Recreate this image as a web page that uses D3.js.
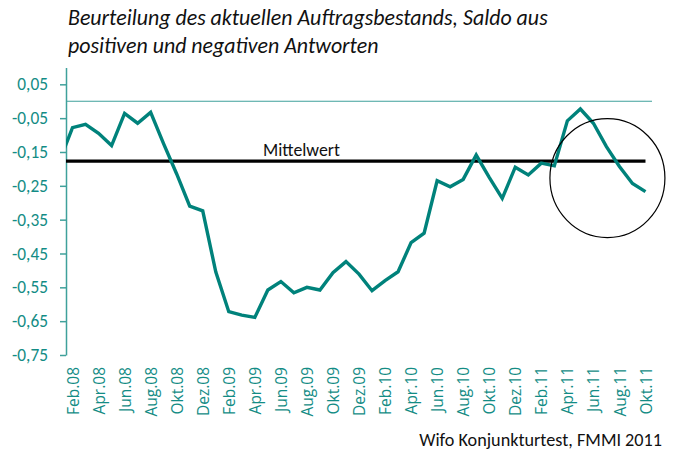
<!DOCTYPE html>
<html>
<head>
<meta charset="utf-8">
<script src="https://cdn.jsdelivr.net/npm/d3@7"></script>
<style>
  body { margin: 0; background: #fff; }
  svg { display: block; font-family: Carlito, Lato, "Open Sans", sans-serif; }
</style>
</head>
<body>
<svg id="chart" width="673" height="451"></svg>
<script>
// monthly categories (Jan.08 sits just left of the plot and gets clipped)
const months = [
  "Jan.08", "Feb.08", "Mär.08", "Apr.08", "Mai.08", "Jun.08", "Jul.08", "Aug.08", "Sep.08", "Okt.08", "Nov.08", "Dez.08",
  "Jan.09", "Feb.09", "Mär.09", "Apr.09", "Mai.09", "Jun.09", "Jul.09", "Aug.09", "Sep.09", "Okt.09", "Nov.09", "Dez.09",
  "Jan.10", "Feb.10", "Mär.10", "Apr.10", "Mai.10", "Jun.10", "Jul.10", "Aug.10", "Sep.10", "Okt.10", "Nov.10", "Dez.10",
  "Jan.11", "Feb.11", "Mär.11", "Apr.11", "Mai.11", "Jun.11", "Jul.11", "Aug.11", "Sep.11", "Okt.11"
];

const saldo = [
  -0.177, -0.078, -0.068, -0.095, -0.131, -0.036, -0.065, -0.033, -0.126, -0.215, -0.310, -0.324,
  -0.504, -0.622, -0.632, -0.639, -0.558, -0.533, -0.566, -0.550, -0.558, -0.507, -0.474, -0.511,
  -0.560, -0.530, -0.504, -0.418, -0.390, -0.235, -0.253, -0.231, -0.159, -0.225, -0.287, -0.195,
  -0.218, -0.183, -0.191, -0.058, -0.023, -0.065, -0.134, -0.193, -0.243, -0.267
];

const mittelwert = -0.177;
const yTicks = [-0.75, -0.65, -0.55, -0.45, -0.35, -0.25, -0.15, -0.05, 0.05];
const xTickLabels = ["Feb.08", "Apr.08", "Jun.08", "Aug.08", "Okt.08", "Dez.08", "Feb.09", "Apr.09", "Jun.09",
  "Aug.09", "Okt.09", "Dez.09", "Feb.10", "Apr.10", "Jun.10", "Aug.10", "Okt.10", "Dez.10", "Feb.11",
  "Apr.11", "Jun.11", "Aug.11", "Okt.11"];

const titleLines = ["Beurteilung des aktuellen Auftragsbestands, Saldo aus", "positiven und negativen Antworten"];
const source = "Wifo Konjunkturtest, FMMI 2011";

// highlighted region around the latest months
const circleMonth = "Jul.11";
const circleValue = -0.227;

const teal = "#00827b";
const tealText = "#138c85";
const tealAxis = "#3fa19b";

const svg = d3.select("#chart");
const plot = { left: 66, right: 652, top: 67, bottom: 355 };

const x = d3.scaleLinear().domain([0.5, months.length - 0.5]).range([plot.left, plot.right]);
const y = d3.scaleLinear().domain([-0.75, 0.1]).range([plot.bottom, plot.top + 0.4]);

const locale = d3.formatLocale({ decimal: ",", thousands: ".", grouping: [3], currency: ["", "€"], minus: "-" });
const fmt = locale.format(".2f");

// scale the font so the given text element is as wide as in the reference
function fitSize(textSel, width) {
  const node = textSel.node();
  const base = parseFloat(textSel.style("font-size"));
  const w = node.getComputedTextLength();
  return base * width / w;
}

// title
const title = svg.append("g").selectAll("text")
  .data(titleLines)
  .enter().append("text")
  .attr("x", 68)
  .attr("y", (d, i) => 25 + i * 28)
  .style("font-size", "18px")
  .style("font-style", "italic")
  .style("fill", "#111")
  .text(d => d);
const titleSize = fitSize(title.filter((d, i) => i === 0), 480);
title.style("font-size", titleSize + "px");

svg.append("clipPath").attr("id", "clip")
  .append("rect")
  .attr("x", plot.left).attr("y", plot.top)
  .attr("width", plot.right - plot.left).attr("height", plot.bottom - plot.top);

// zero line
svg.append("line")
  .attr("x1", plot.left).attr("x2", plot.right)
  .attr("y1", y(0)).attr("y2", y(0))
  .style("stroke", tealAxis).style("stroke-width", 1.2);

// y axis
const yAxis = svg.append("g")
  .attr("transform", `translate(${plot.left},0)`)
  .call(d3.axisLeft(y).tickValues(yTicks).tickFormat(fmt).tickSize(6).tickSizeOuter(0).tickPadding(12));
yAxis.select(".domain").style("stroke", tealAxis).style("stroke-width", 1.5);
yAxis.selectAll(".tick line").style("stroke", tealAxis).style("stroke-width", 1.5);
const yLabels = yAxis.selectAll("text")
  .style("font-size", "14px").style("fill", tealText).style("font-family", "Carlito, Lato, sans-serif");
yLabels.style("font-size", fitSize(yLabels.filter(d => d === -0.75), 36) + "px");

// x labels (every second month)
const xAxis = svg.append("g")
  .attr("transform", "translate(0,367)")
  .call(d3.axisBottom(x)
    .tickValues(xTickLabels.map(m => months.indexOf(m)))
    .tickFormat(i => months[i])
    .tickSize(0));
xAxis.select(".domain").remove();
const xLabels = xAxis.selectAll("text")
  .attr("transform", "rotate(-90)")
  .attr("x", 0).attr("y", 0).attr("dy", "0.36em")
  .style("text-anchor", "end")
  .style("font-size", "14px")
  .style("fill", tealText)
  .style("font-family", "'Open Sans', sans-serif");
xLabels.style("font-size", fitSize(xLabels.filter(d => months[d] === "Feb.08"), 48) + "px");

const clipped = svg.append("g").attr("clip-path", "url(#clip)");

// Mittelwert line
clipped.append("line")
  .attr("x1", x(0)).attr("x2", x(months.length - 1))
  .attr("y1", y(mittelwert)).attr("y2", y(mittelwert))
  .style("stroke", "#000").style("stroke-width", 3.2);

const mwLabel = svg.append("text")
  .attr("x", 263).attr("y", 156)
  .style("font-size", "15px")
  .style("fill", "#111")
  .text("Mittelwert");
mwLabel.style("font-size", fitSize(mwLabel, 77) + "px");

// series
const line = d3.line()
  .x((d, i) => x(i))
  .y(d => y(d));

clipped.append("path")
  .datum(saldo)
  .attr("d", line)
  .style("fill", "none")
  .style("stroke", teal)
  .style("stroke-width", 3.4)
  .style("stroke-linejoin", "miter");

// annotation circle
svg.append("ellipse")
  .attr("cx", x(months.indexOf(circleMonth)) + 1)
  .attr("cy", y(circleValue))
  .attr("rx", 57.5).attr("ry", 59.5)
  .style("fill", "none").style("stroke", "#000").style("stroke-width", 1.2);

// source
const src = svg.append("text")
  .attr("x", 662).attr("y", 446)
  .style("text-anchor", "end")
  .style("font-size", "15px")
  .style("fill", "#111")
  .text(source);
src.style("font-size", fitSize(src, 243) + "px");
</script>
</body>
</html>
